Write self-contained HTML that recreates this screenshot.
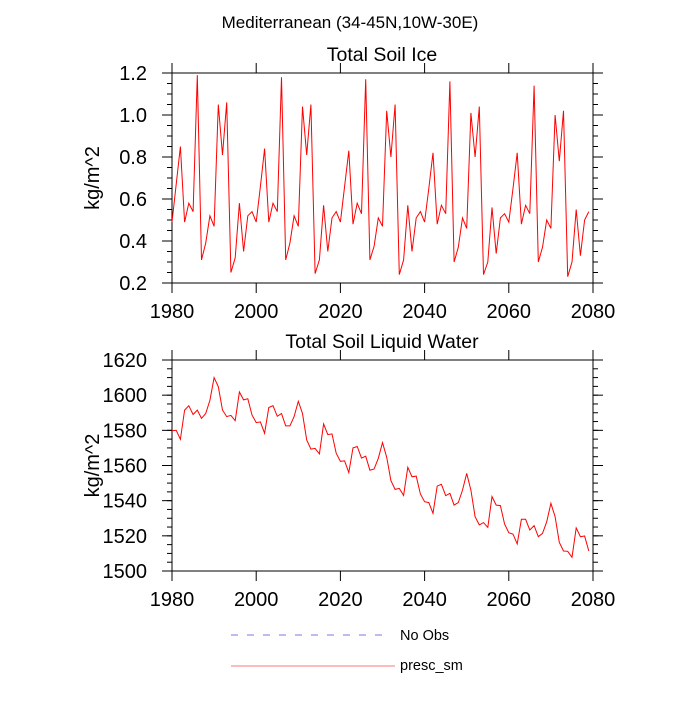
<!DOCTYPE html>
<html><head><meta charset="utf-8"><style>
body{margin:0;background:#fff;}
svg text{font-family:"Liberation Sans",Arial,sans-serif;fill:#000;}
</style></head><body>
<svg id="chart" width="700" height="700" viewBox="0 0 700 700" xmlns="http://www.w3.org/2000/svg">
<text x="350" y="28" font-size="17" text-anchor="middle">Mediterranean (34-45N,10W-30E)</text>
<g id="p1"></g>
<g id="p2"></g>
<g>
<line x1="231" y1="635" x2="390" y2="635" stroke="#7777ee" stroke-width="1" stroke-dasharray="7,9"/>
<text x="400" y="640" font-size="14.5">No Obs</text>
<line x1="231" y1="666" x2="395" y2="666" stroke="#ff7777" stroke-width="1"/>
<text x="400" y="670" font-size="14.5">presc_sm</text>
</g>
</svg>
<script>
const years = Array.from({length:100},(_,i)=>1980+i);
const iceValues = [
0.49,0.67,0.85,0.49,0.58,0.54,1.19,0.31,0.39,0.52,0.47,1.05,0.81,1.06,0.25,0.32,0.58,0.35,0.52,0.54,
0.49,0.66,0.84,0.49,0.58,0.54,1.18,0.31,0.39,0.52,0.47,1.04,0.81,1.05,0.245,0.31,0.57,0.35,0.51,0.54,
0.49,0.66,0.83,0.48,0.58,0.53,1.17,0.31,0.375,0.51,0.47,1.02,0.80,1.05,0.24,0.31,0.57,0.35,0.51,0.54,
0.49,0.65,0.82,0.48,0.57,0.53,1.16,0.30,0.37,0.51,0.46,1.01,0.80,1.04,0.24,0.30,0.56,0.34,0.51,0.53,
0.49,0.65,0.82,0.48,0.57,0.53,1.14,0.30,0.37,0.50,0.46,1.00,0.78,1.02,0.23,0.30,0.55,0.33,0.50,0.54];
const liqValues = [
1579.8,1580,1574.9,1591.5,1594,1589,1591.5,1586.8,1589.6,1597,1610,1604.8,1591.5,1587.8,1588.5,1585.5,1601.8,1597.3,1598,1588.7,
1584.4,1584.8,1578.3,1593,1594,1588,1589.6,1582.5,1582.5,1587.8,1596.5,1589.6,1574.5,1569.3,1569.7,1566.6,1583.6,1577.6,1578,1567,
1562.4,1562.6,1556,1570,1570.8,1564.2,1565.3,1557.3,1558,1564.1,1573,1564.7,1551.4,1546.4,1547,1543,1559,1553.6,1554,1543.8,
1539.4,1538.9,1532.8,1548.3,1549.3,1542.8,1544.2,1537.5,1538.9,1546,1555.5,1546,1530.9,1526.2,1527.5,1524.8,1542.3,1537.5,1537.2,1526.7,
1521.8,1521,1515.4,1529.4,1529.4,1523.3,1525.8,1519.5,1521.4,1528,1538.5,1530.9,1516.3,1511.4,1511.2,1507.8,1524.5,1519.5,1519.9,1511.4];
const xTicks = [1980,2000,2020,2040,2060,2080];
const iceTicks = [0.2,0.4,0.6,0.8,1.0,1.2];
const liqTicks = [1500,1520,1540,1560,1580,1600,1620];
const NS="http://www.w3.org/2000/svg";
function mk(parent,tag,attrs){const e=document.createElementNS(NS,tag);for(const k in attrs)e.setAttribute(k,attrs[k]);parent.appendChild(e);return e;}
function panel(g,name,top,bottom,ymin,ymax,yticks,minorStep,dec,vals,title){
  const L=172,R=593;
  const xs=v=>L+(v-1980)/100*(R-L);
  const ys=v=>bottom-(v-ymin)/(ymax-ymin)*(bottom-top);
  const t=mk(g,'text',{x:382,y:top-12,'font-size':19.5,'text-anchor':'middle'});t.textContent=title;
  
  
  const fr=mk(g,'rect',{x:L,y:top,width:R-L,height:bottom-top,fill:'none',stroke:'#000','stroke-width':1});
  
  
  const n=Math.round((ymax-ymin)/minorStep);
  for(let i=0;i<=n;i++){const y=ys(ymin+i*minorStep);
    mk(g,'line',{x1:L-5,x2:L,y1:y,y2:y,stroke:'#000'});mk(g,'line',{x1:R,x2:R+5,y1:y,y2:y,stroke:'#000'});}
  yticks.forEach(v=>{const y=ys(v);
    mk(g,'line',{x1:L-10,x2:L,y1:y,y2:y,stroke:'#000'});mk(g,'line',{x1:R,x2:R+10,y1:y,y2:y,stroke:'#000'});
    const tx=mk(g,'text',{x:147,y:y+7,'font-size':20,'text-anchor':'end'});tx.textContent=v.toFixed(dec);
    
    });
  xTicks.forEach(v=>{const x=xs(v);
    mk(g,'line',{x1:x,x2:x,y1:top-10,y2:top,stroke:'#000'});mk(g,'line',{x1:x,x2:x,y1:bottom,y2:bottom+10,stroke:'#000'});
    const tx=mk(g,'text',{x:x,y:bottom+35,'font-size':20,'text-anchor':'middle'});tx.textContent=v;
    
    });
  const yl=mk(g,'text',{x:0,y:0,'font-size':20,'text-anchor':'middle',transform:`translate(99,${(top+bottom)/2}) rotate(-90)`});yl.textContent='kg/m^2';
  
  
  const pl=mk(g,'polyline',{points:vals.map((v,i)=>xs(years[i]).toFixed(1)+','+ys(v).toFixed(1)).join(' '),fill:'none',stroke:'#ff0000','stroke-width':1});
  
  
}
panel(document.getElementById('p1'),'soil-ice',73,283,0.2,1.2,iceTicks,0.05,1,iceValues,'Total Soil Ice');
panel(document.getElementById('p2'),'soil-liquid',360,571,1500,1620,liqTicks,5,0,liqValues,'Total Soil Liquid Water');
</script>
</body></html>
